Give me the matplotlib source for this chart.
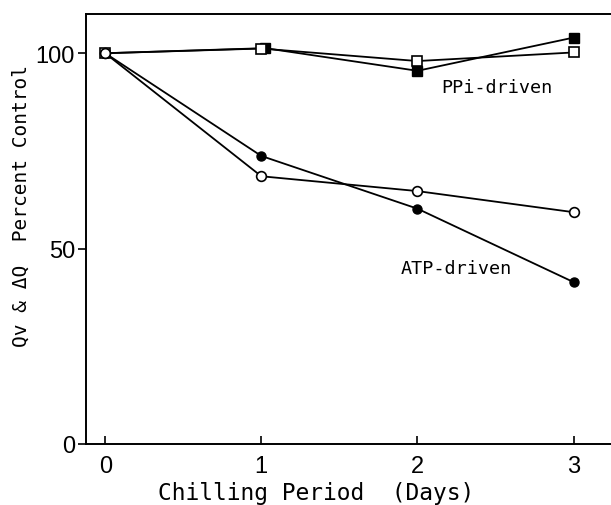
"""
Chilling period vs percent control (Qv & dQ), ATP- and PPi-driven.
"""
import matplotlib
matplotlib.use('Agg')
import matplotlib.pyplot as plt

days = [0, 1, 2, 3]

# ATP-driven
atp_open = [100, 68.5, 64.7, 59.3]
atp_filled = [100, 73.7, 60.2, 41.4]

# PPi-driven
ppi_open = [100, 101.2, 98.0, 100.2]
ppi_filled = [100, 101.3, 95.5, 104.0]
ppi_filled_x = [0, 1.025, 2, 3]

x_ticks = [0, 1, 2, 3]
y_ticks = [0, 50, 100]

mono = 'DejaVu Sans Mono'
sans = 'Liberation Sans'

fig = plt.figure(figsize=(6.11, 5.06), dpi=100)
ax = fig.add_axes([0.141, 0.121, 0.859, 0.849])

lw = 1.3
ax.plot(days, atp_filled, '-o', color='black', lw=lw, ms=6.5, mfc='black', mec='black', zorder=3)
ax.plot(days, atp_open, '-o', color='black', lw=lw, ms=7, mfc='white', mec='black', mew=1.2, zorder=4)
ax.plot(ppi_filled_x[1:], ppi_filled[1:], 's', color='black', ms=6.5, zorder=3)
ax.plot(ppi_filled_x, ppi_filled, '-', color='black', lw=lw, zorder=2)
ax.plot(days, ppi_open, '-s', color='black', lw=lw, ms=6.5, mfc='white', mec='black', mew=1.2, zorder=4)
ax.plot([0], [100], 'o', ms=7, mfc='white', mec='black', mew=1.2, zorder=5)

ax.set_xlim(-0.122, 3.24)
ax.set_ylim(0, 110)

ax.set_xticks(x_ticks)
ax.set_yticks(y_ticks)
ax.tick_params(axis='x', direction='in', length=6, width=1.2, pad=8, labelsize=17)
ax.tick_params(axis='y', direction='out', length=6, width=1.2, pad=2, labelsize=17)
for lab in ax.get_xticklabels() + ax.get_yticklabels():
    lab.set_family(sans)

for s in ax.spines.values():
    s.set_linewidth(1.4)
ax.spines['right'].set_visible(False)

ax.text(2.51, 91.3, 'PPi-driven', family=mono, fontsize=13.3, ha='center', va='center')
ax.text(2.25, 45.1, 'ATP-driven', family=mono, fontsize=13.3, ha='center', va='center')

ax.set_xlabel('Chilling Period  (Days)', family=mono, fontsize=16.5)
ax.xaxis.set_label_coords(0.438, -0.086)
ax.set_ylabel('Qv & ΔQ  Percent Control', family=mono, fontsize=14)
ax.yaxis.set_label_coords(-0.105, 0.555)

plt.savefig('out.png', dpi=100)
plt.close(fig)
